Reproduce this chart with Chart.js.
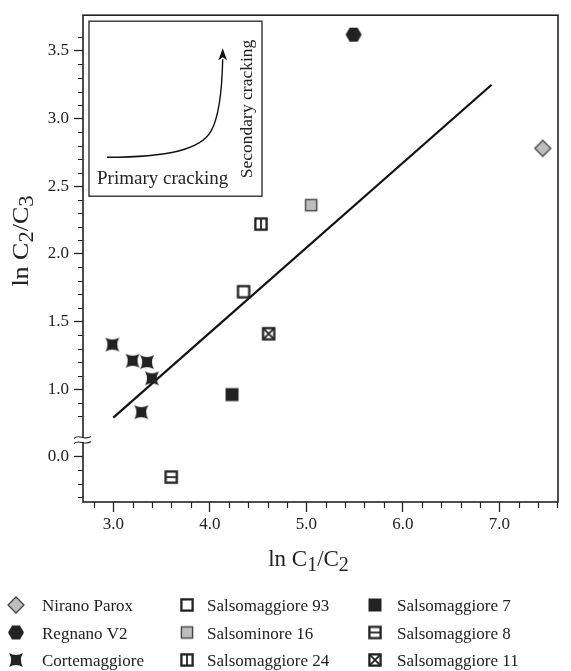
<!DOCTYPE html>
<html lang="en">
<head>
<meta charset="utf-8">
<title>ln C2/C3 vs ln C1/C2</title>
<script src="https://cdn.jsdelivr.net/npm/chart.js@4.4.0/dist/chart.umd.min.js"></script>
<style>
  body { margin: 0; background: #fff; }
  canvas { display: block; }
</style>
</head>
<body>
<canvas id="myChart" width="571" height="671"></canvas>
<script>
// samples: [ln C1/C2, ln C2/C3]
var niranoParox   = [[7.45, 2.78]];
var regnanoV2     = [[5.49, 3.62]];
var cortemaggiore = [[2.99, 1.33], [3.20, 1.21], [3.35, 1.20], [3.40, 1.08], [3.29, 0.83]];
var salso93       = [[4.35, 1.72]];
var salsominore16 = [[5.05, 2.36]];
var salso24       = [[4.53, 2.22]];
var salso7        = [[4.23, 0.96]];
var salso8        = [[3.60, -0.15]];
var salso11       = [[4.61, 1.41]];
// regression line end points
var fitLine       = [[3.00, 0.79], [6.92, 3.25]];

var seriesNames = ['Nirano Parox', 'Regnano V2', 'Cortemaggiore',
                   'Salsomaggiore 93', 'Salsominore 16', 'Salsomaggiore 24',
                   'Salsomaggiore 7', 'Salsomaggiore 8', 'Salsomaggiore 11'];
var seriesData  = [niranoParox, regnanoV2, cortemaggiore,
                   salso93, salsominore16, salso24,
                   salso7, salso8, salso11];
var markerKinds = ['diamond', 'hexagon', 'star',
                   'openSquare', 'greySquare', 'boxV',
                   'blackSquare', 'boxH', 'boxX'];

var xTicks = [3.0, 4.0, 5.0, 6.0, 7.0];
var yTicks = [0.0, 1.0, 1.5, 2.0, 2.5, 3.0, 3.5];

// the y axis is broken between ~0.1 and ~0.6: the lower part is shifted up by 0.5
var BREAK_SHIFT = 0.5;
function plotY(v) { return v < 0.4 ? v + BREAK_SHIFT : v; }
function realY(v) { return v < 0.7 ? v - BREAK_SHIFT : v; }

var SERIF = '"Liberation Serif", "DejaVu Serif", serif';
var INK = '#222';

function makeMarker(kind) {
  var s = 20;
  var c = document.createElement('canvas');
  c.width = s; c.height = s;
  var g = c.getContext('2d');
  g.translate(s / 2, s / 2);
  g.strokeStyle = INK;
  g.fillStyle = INK;
  g.lineJoin = 'miter';
  var h = 5.6;
  if (kind === 'diamond') {
    g.beginPath();
    g.moveTo(0, -8); g.lineTo(8, 0); g.lineTo(0, 8); g.lineTo(-8, 0); g.closePath();
    g.fillStyle = '#bdbdbd'; g.fill();
    g.lineWidth = 1.3; g.strokeStyle = '#444'; g.stroke();
  } else if (kind === 'hexagon') {
    g.beginPath();
    g.moveTo(-8, 0); g.lineTo(-4, -7); g.lineTo(4, -7); g.lineTo(8, 0); g.lineTo(4, 7); g.lineTo(-4, 7); g.closePath();
    g.fill();
  } else if (kind === 'star') {
    var r = 7, k = 0.4 * r;
    g.beginPath();
    g.moveTo(-r, -r);
    g.quadraticCurveTo(0, -k, r, -r);
    g.quadraticCurveTo(k, 0, r, r);
    g.quadraticCurveTo(0, k, -r, r);
    g.quadraticCurveTo(-k, 0, -r, -r);
    g.closePath();
    g.fill();
  } else if (kind === 'blackSquare') {
    g.fillRect(-6.5, -6.5, 13, 13);
  } else if (kind === 'greySquare') {
    g.fillStyle = '#bdbdbd';
    g.fillRect(-h, -h, 2 * h, 2 * h);
    g.lineWidth = 1.4; g.strokeStyle = '#444';
    g.strokeRect(-h, -h, 2 * h, 2 * h);
  } else {
    g.fillStyle = '#fff';
    g.fillRect(-h, -h, 2 * h, 2 * h);
    g.lineWidth = 2.3;
    g.strokeRect(-h, -h, 2 * h, 2 * h);
    g.lineWidth = 1.8;
    g.beginPath();
    if (kind === 'boxV') { g.moveTo(0, -h); g.lineTo(0, h); }
    if (kind === 'boxH') { g.moveTo(-h, 0); g.lineTo(h, 0); }
    if (kind === 'boxX') { g.moveTo(-h, -h); g.lineTo(h, h); g.moveTo(h, -h); g.lineTo(-h, h); }
    g.stroke();
  }
  return c;
}

var markers = markerKinds.map(makeMarker);

var datasets = seriesData.map(function (pts, i) {
  return {
    label: seriesNames[i],
    data: pts.map(function (p) { return { x: p[0], y: plotY(p[1]) }; }),
    pointStyle: markers[i],
    pointRadius: 7,
    showLine: false
  };
});
datasets.push({
  label: 'fit',
  data: fitLine.map(function (p) { return { x: p[0], y: plotY(p[1]) }; }),
  showLine: true,
  pointRadius: 0,
  borderColor: '#111',
  borderWidth: 2.2
});

// subscripted axis title, e.g. ln C1/C2
function drawTitle(ctx, parts, cx, cy, stretch) {
  var big = '23px ' + SERIF, small = '20px ' + SERIF;
  var w = 0;
  parts.forEach(function (p) { ctx.font = p[1] ? small : big; w += ctx.measureText(p[0]).width; });
  ctx.save();
  ctx.translate(cx, cy);
  ctx.scale(stretch, 1);
  var x = -w / 2;
  parts.forEach(function (p) {
    ctx.font = p[1] ? small : big;
    ctx.fillText(p[0], x, p[1] ? 4.5 : 0);
    x += ctx.measureText(p[0]).width;
  });
  ctx.restore();
}

var decorations = {
  id: 'decorations',
  afterDraw: function (chart) {
    var ctx = chart.ctx, a = chart.chartArea;
    var xs = chart.scales.x, ys = chart.scales.y;
    var i, px;
    ctx.save();
    ctx.strokeStyle = INK;
    ctx.fillStyle = INK;

    // plot frame
    ctx.lineWidth = 1.6;
    ctx.strokeRect(a.left, a.top, a.right - a.left, a.bottom - a.top);

    // minor ticks
    ctx.lineWidth = 1.2;
    ctx.beginPath();
    for (i = 14; i <= 38; i++) {
      if (i % 5 === 0) continue;
      px = Math.round(xs.getPixelForValue(i / 5)) + 0.5;
      ctx.moveTo(px, a.bottom); ctx.lineTo(px, a.bottom + 6);
    }
    for (i = 2; i <= 36; i++) {
      if (i % 5 === 0 || (i > 4 && i < 8)) continue;
      px = Math.round(ys.getPixelForValue(i / 10)) + 0.5;
      ctx.moveTo(a.left, px); ctx.lineTo(a.left - 5, px);
    }
    ctx.stroke();

    // axis break marks
    var by = ys.getPixelForValue(0.625);
    ctx.fillStyle = '#fff';
    ctx.fillRect(a.left - 3, by - 2, 6, 4);
    ctx.beginPath();
    [-2.6, 2.6].forEach(function (d) {
      ctx.moveTo(a.left - 9, by + d + 1);
      ctx.bezierCurveTo(a.left - 4, by + d - 4, a.left + 2, by + d + 4, a.left + 8, by + d - 1);
    });
    ctx.lineWidth = 1.1;
    ctx.stroke();

    // axis titles
    ctx.fillStyle = INK;
    ctx.textBaseline = 'alphabetic';
    ctx.textAlign = 'left';
    drawTitle(ctx, [['ln C', 0], ['1', 1], ['/C', 0], ['2', 1]], (a.left + a.right) / 2 - 12, 566, 1.0);
    ctx.save();
    ctx.translate(28, 241);
    ctx.rotate(-Math.PI / 2);
    drawTitle(ctx, [['ln C', 0], ['2', 1], ['/C', 0], ['3', 1]], 0, 0, 1.13);
    ctx.restore();

    // inset sketch
    var bx = a.left + 6, bt = a.top + 6;
    ctx.lineWidth = 1.4;
    ctx.strokeStyle = '#333';
    ctx.strokeRect(bx, bt, 173, 175);
    ctx.strokeStyle = '#111';
    ctx.lineWidth = 1.4;
    ctx.beginPath();
    ctx.moveTo(bx + 18, bt + 136);
    ctx.bezierCurveTo(bx + 80, bt + 136, bx + 112, bt + 128, bx + 122, bt + 110);
    ctx.bezierCurveTo(bx + 130, bt + 96, bx + 133, bt + 70, bx + 133.7, bt + 38);
    ctx.stroke();
    ctx.fillStyle = '#111';
    ctx.beginPath();
    ctx.moveTo(bx + 133.7, bt + 27);
    ctx.lineTo(bx + 138, bt + 39);
    ctx.lineTo(bx + 133.7, bt + 36);
    ctx.lineTo(bx + 129.4, bt + 39);
    ctx.closePath();
    ctx.fill();
    ctx.fillStyle = INK;
    ctx.font = '19px ' + SERIF;
    ctx.fillText('Primary cracking', bx + 8, bt + 163);
    ctx.save();
    ctx.translate(bx + 163, bt + 157);
    ctx.rotate(-Math.PI / 2);
    ctx.font = '17.5px ' + SERIF;
    ctx.fillText('Secondary cracking', 0, 0);
    ctx.restore();

    // legend, three columns
    var colMark = [16, 187, 375], colText = [42, 207, 397], rowBase = [611, 638.5, 666];
    ctx.font = '17px ' + SERIF;
    seriesNames.forEach(function (name, k) {
      var col = Math.floor(k / 3), row = k % 3;
      var m = markers[k];
      ctx.drawImage(m, colMark[col] - m.width / 2, rowBase[row] - 6 - m.height / 2);
      ctx.fillText(name, colText[col], rowBase[row]);
    });
    ctx.restore();
  }
};

var ctx = document.getElementById('myChart').getContext('2d');
var chart = new Chart(ctx, {
  type: 'scatter',
  data: { datasets: datasets },
  options: {
    responsive: false,
    maintainAspectRatio: false,
    animation: false,
    layout: { padding: { left: 0, right: 13, top: 7, bottom: 129 } },
    plugins: { legend: { display: false }, tooltip: { enabled: false } },
    scales: {
      x: {
        type: 'linear',
        min: 2.686, max: 7.608,
        afterBuildTicks: function (s) { s.ticks = xTicks.map(function (v) { return { value: v }; }); },
        afterFit: function (s) { s.height = 40; },
        border: { display: false },
        grid: { display: true, drawOnChartArea: false, drawTicks: true, tickLength: 10, tickColor: INK, tickWidth: 1.3 },
        ticks: {
          font: { family: SERIF, size: 17 }, color: INK, padding: 2, maxRotation: 0, autoSkip: false,
          callback: function (v) { return Number(v).toFixed(1); }
        }
      },
      y: {
        type: 'linear',
        min: 0.166, max: 3.764,
        afterBuildTicks: function (s) { s.ticks = yTicks.map(function (v) { return { value: plotY(v) }; }); },
        afterFit: function (s) { s.width = 83; },
        border: { display: false },
        grid: { display: true, drawOnChartArea: false, drawTicks: true, tickLength: 9, tickColor: INK, tickWidth: 1.3 },
        ticks: {
          font: { family: SERIF, size: 17 }, color: INK, padding: 5, autoSkip: false,
          callback: function (v) { return realY(v).toFixed(1); }
        }
      }
    }
  },
  plugins: [decorations]
});
</script>
</body>
</html>
